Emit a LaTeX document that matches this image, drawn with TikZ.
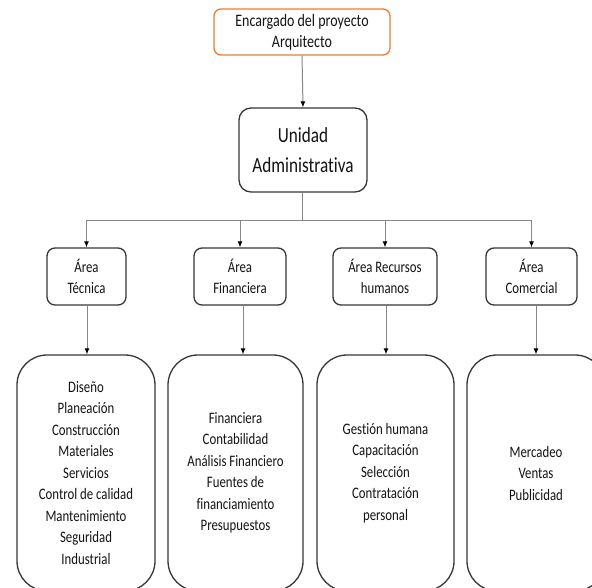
\documentclass[tikz,border=0pt]{standalone}
\usepackage{fontspec}
\setmainfont{Carlito}[FakeStretch=0.8,Ligatures=NoCommon]
\usetikzlibrary{arrows.meta}
\definecolor{orgline}{RGB}{237,125,49}
\definecolor{boxline}{RGB}{55,55,55}
\definecolor{conline}{RGB}{135,135,135}
\definecolor{txt}{RGB}{20,20,20}
\tikzset{
  base/.style={draw=boxline, line width=1.3pt, align=center, inner sep=0pt, text=txt,
    font=\fontsize{16}{21.5}\selectfont},
  topbox/.style={base, draw=orgline, rounded corners=7pt, minimum width=176pt, minimum height=46pt,
    font=\fontsize{17.5}{21}\selectfont},
  mainbox/.style={base, rounded corners=12pt, minimum width=128pt, minimum height=84pt,
    font=\fontsize{21.5}{30}\selectfont},
  areabox/.style={base, rounded corners=8pt, minimum height=57pt},
  listbox/.style={base, rounded corners=30pt, minimum height=236pt},
  conn/.style={draw=conline, line width=1pt},
  arr/.style={conn, -{Latex[length=6pt,width=5pt,black]}}
}
\begin{document}
\begin{tikzpicture}[x=1pt,y=-1pt]
\useasboundingbox (0,0) rectangle (592,587);
\clip (0,0) rectangle (592,587);
\fill[white] (0,0) rectangle (592,587);
\node[topbox] (top) at (302,32) {Encargado del proyecto\\Arquitecto};
\node[mainbox] (ua) at (303,150) {Unidad\\Administrativa};
\node[areabox, minimum width=79pt] (a1) at (86.5,276.5) {Área\\Técnica};
\node[areabox, minimum width=92pt] (a2) at (240,276.5) {Área\\Financiera};
\node[areabox, minimum width=104pt] (a3) at (385,276.5) {Área Recursos\\humanos};
\node[areabox, minimum width=91pt] (a4) at (531.5,276.5) {Área\\Comercial};
\node[listbox, minimum width=138pt] (l1) at (86,473) {Diseño\\Planeación\\Construcción\\Materiales\\Servicios\\Control de calidad\\Mantenimiento\\Seguridad\\Industrial};
\node[listbox, minimum width=135pt] (l2) at (235.5,473) {Financiera\\Contabilidad\\Análisis Financiero\\Fuentes de\\financiamiento\\Presupuestos};
\node[listbox, minimum width=137pt] (l3) at (385.5,473) {Gestión humana\\Capacitación\\Selección\\Contratación\\personal};
\node[listbox, minimum width=138pt] (l4) at (536,473) {Mercadeo\\Ventas\\Publicidad};
\coordinate (bus) at (302,220);
\draw[arr] (top.south) -- (ua.north);
\draw[conn] (ua.south -| bus) -- (bus);
\draw[conn] (bus -| a1.north) -- (bus -| a4.north);
\foreach \n in {a1,a2,a3,a4}
  \draw[arr] (bus -| \n.north) -- (\n.north);
\draw[arr] ([xshift=0.5pt]a1.south) -- ([xshift=0.5pt]a1.south |- l1.north);
\draw[arr] ([xshift=3pt]a2.south) -- ([xshift=3pt]a2.south |- l2.north);
\draw[arr] ([xshift=1pt]a3.south) -- ([xshift=1pt]a3.south |- l3.north);
\draw[arr] ([xshift=4.5pt]a4.south) -- ([xshift=4.5pt]a4.south |- l4.north);
\end{tikzpicture}
\end{document}
